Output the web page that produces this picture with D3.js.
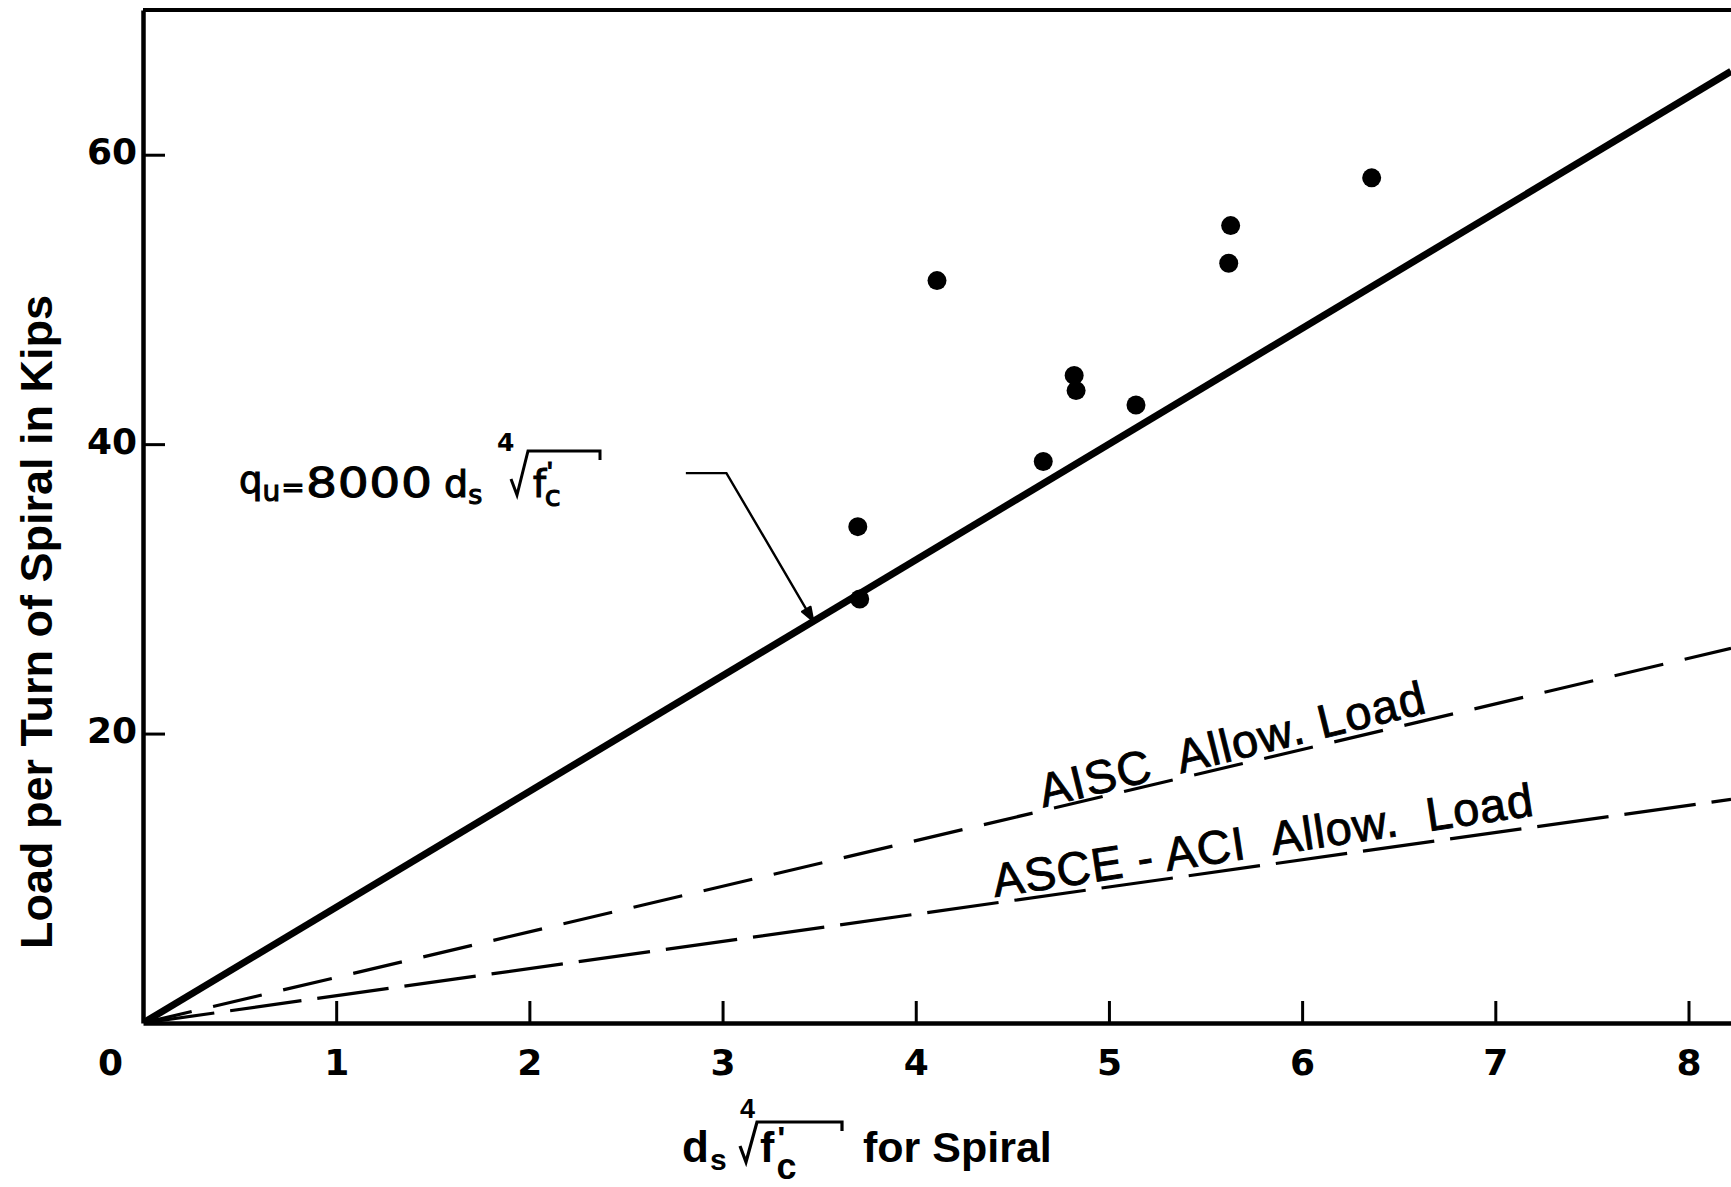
<!DOCTYPE html>
<html>
<head>
<meta charset="utf-8">
<script src="https://cdn.jsdelivr.net/npm/d3@7"></script>
<style>
  html, body { margin: 0; padding: 0; background: #fff; }
  svg { display: block; }
  text { fill: #000; }
</style>
</head>
<body>
<script>
// ---- data -------------------------------------------------------------
const xTicks = [0, 1, 2, 3, 4, 5, 6, 7, 8];
const yTicks = [20, 40, 60];

// test specimens: d_s * fourth-root(f'c) vs. load per turn of spiral (kips)
const specimenX = [3.70, 3.71, 4.11, 4.66, 4.82, 4.83, 5.14, 5.63, 5.62, 6.36];
const specimenY = [34.3, 29.3, 51.3, 38.8, 44.75, 43.7, 42.7, 55.1, 52.5, 58.4];

// straight design lines through the origin: load = slope * x (kips)
const lineNames  = ["ultimate", "AISC", "ASCE-ACI"];
const lineSlopes = [8.0, 3.15, 1.88];

// leader from the formula label to the ultimate-strength line
const leaderX = [2.81, 3.02, 3.47];
const leaderY = [38.0, 38.0, 27.76];

// ---- layout -----------------------------------------------------------
const W = 1731, H = 1187;
const x0 = 143, x1 = 1731, yBot = 1023, yTop = 10;
const xMax = 8.22, yMax = 70;

const svg = d3.select("body").append("svg")
  .attr("width", W).attr("height", H)
  .attr("viewBox", `0 0 ${W} ${H}`);

const x = d3.scaleLinear().domain([0, xMax]).range([x0, x1]);
const y = d3.scaleLinear().domain([0, yMax]).range([yBot, yTop]);

svg.append("defs").append("clipPath").attr("id", "plot")
  .append("rect").attr("x", x0).attr("y", yTop).attr("width", x1 - x0).attr("height", yBot - yTop);

// ---- axes -------------------------------------------------------------
const tickFont = "'DejaVu Sans', sans-serif";

const gx = svg.append("g").attr("transform", `translate(0,${yBot})`)
  .call(d3.axisBottom(x).tickValues(xTicks).tickSizeInner(-22).tickSizeOuter(0).tickPadding(26)
    .tickFormat(d3.format("d")));
gx.select(".domain").attr("stroke", "#000").attr("stroke-width", 4.5);
gx.selectAll(".tick line").attr("stroke", "#000").attr("stroke-width", 3);
gx.selectAll(".tick text")
  .attr("font-family", tickFont).attr("font-weight", "bold").attr("font-size", 36)
  .attr("dx", d => d === 0 ? -33 : 0);
gx.selectAll(".tick").filter(d => d === 0).select("line").remove();

const gy = svg.append("g").attr("transform", `translate(${x0},0)`)
  .call(d3.axisLeft(y).tickValues(yTicks).tickSizeInner(-22).tickSizeOuter(0).tickPadding(6));
gy.select(".domain").attr("stroke", "#000").attr("stroke-width", 4.5);
gy.selectAll(".tick line").attr("stroke", "#000").attr("stroke-width", 3);
gy.selectAll(".tick text")
  .attr("font-family", tickFont).attr("font-weight", "bold").attr("font-size", 36)
  .attr("dy", "0.25em");

// top frame edge
svg.append("line")
  .attr("x1", x0).attr("x2", x1).attr("y1", y(yMax)).attr("y2", y(yMax))
  .attr("stroke", "#000").attr("stroke-width", 4);

// ---- design lines -----------------------------------------------------
const lineStyles = {
  "ultimate": { w: 7, dash: null },
  "AISC":     { w: 3.2, dash: "50,22" },
  "ASCE-ACI": { w: 3.2, dash: "72,16" }
};
const lineGen = d3.line().x(d => x(d[0])).y(d => y(d[1]));
const plot = svg.append("g").attr("clip-path", "url(#plot)");
lineNames.forEach((name, i) => {
  const s = lineStyles[name];
  plot.append("path")
    .datum([[0, 0], [xMax, lineSlopes[i] * xMax]])
    .attr("d", lineGen)
    .attr("fill", "none").attr("stroke", "#000")
    .attr("stroke-width", s.w)
    .attr("stroke-dasharray", s.dash)
    .attr("stroke-linecap", "butt");
});

// ---- specimens --------------------------------------------------------
plot.selectAll("circle.spec")
  .data(specimenX.map((v, i) => [v, specimenY[i]]))
  .join("circle").attr("class", "spec")
  .attr("cx", d => x(d[0])).attr("cy", d => y(d[1]))
  .attr("r", 9.5).attr("fill", "#000");

// ---- leader + arrowhead ----------------------------------------------
const leaderPts = leaderX.map((v, i) => [v, leaderY[i]]);
svg.append("path").datum(leaderPts).attr("d", lineGen)
  .attr("fill", "none").attr("stroke", "#000").attr("stroke-width", 2.4);
{
  const a = leaderPts[1], b = leaderPts[2];
  const ax = x(a[0]), ay = y(a[1]), bx = x(b[0]), by = y(b[1]);
  const ang = Math.atan2(by - ay, bx - ax);
  const L = 14, hw = 5;
  const p1 = [bx - L * Math.cos(ang) + hw * Math.sin(ang), by - L * Math.sin(ang) - hw * Math.cos(ang)];
  const p2 = [bx - L * Math.cos(ang) - hw * Math.sin(ang), by - L * Math.sin(ang) + hw * Math.cos(ang)];
  svg.append("path").attr("d", `M${bx},${by}L${p1}L${p2}Z`).attr("fill", "#000")
    .attr("stroke", "#000").attr("stroke-width", 2).attr("stroke-linejoin", "round");
}

// ---- line labels ------------------------------------------------------
const labelFont = "'Liberation Sans', Arial, sans-serif";
function lineLabel(slope, xStart, lift, txt, len) {
  const px = x(xStart), py = y(slope * xStart) - lift;
  const ang = Math.atan2(y(slope) - y(0), x(1) - x(0)) * 180 / Math.PI - 0.6;
  svg.append("text")
    .attr("transform", `translate(${px},${py}) rotate(${ang})`)
    .attr("font-family", labelFont).attr("font-size", 47)
    .attr("stroke", "#000").attr("stroke-width", 0.9)
    .attr("textLength", len).attr("lengthAdjust", "spacing")
    .style("white-space", "pre")
    .text(txt);
}
lineLabel(lineSlopes[1], 4.66, 3, "AISC  Allow. Load", 396);
lineLabel(lineSlopes[2], 4.41, 6, "ASCE - ACI  Allow.  Load", 546);

// ---- math lettering helpers -----------------------------------------------
// parts: [string, {dx, dy, size, ls}] appended as tspans of one text element
function mathText(px, py, family, size, parts, weight = "bold", stroke = 0) {
  const t = svg.append("text").attr("x", px).attr("y", py)
    .attr("font-family", family).attr("font-weight", weight).attr("font-size", size)
    .style("white-space", "pre");
  if (stroke) t.attr("stroke", "#000").attr("stroke-width", stroke);
  parts.forEach(([s, o]) => {
    const sp = t.append("tspan").text(s);
    if (o.dx != null) sp.attr("dx", o.dx);
    if (o.dy != null) sp.attr("dy", o.dy);
    if (o.size != null) sp.attr("font-size", o.size);
    if (o.ls != null) sp.attr("letter-spacing", o.ls);
    if (o.family != null) sp.attr("font-family", o.family);
  });
  return t;
}
function radical(cx, by, topY, barEnd, w) {
  // check mark, overbar and closing tick of the root sign
  svg.append("path")
    .attr("d", `M${cx},${by - 16}L${cx + 6},${by}L${cx + 17},${topY}H${barEnd}V${topY + 9}`)
    .attr("fill", "none").attr("stroke", "#000").attr("stroke-width", w)
    .attr("stroke-linejoin", "miter");
}

// ---- formula label  q_u = 8000 d_s ⁴√f'c --------------------------------
const fFont = "'DejaVu Sans', sans-serif";
const LSans = "'Liberation Sans', Arial, sans-serif";
mathText(239, 493, fFont, 37, [
  ["q", {}],
  ["u", { dy: 8, size: 28 }],
  ["=", { dx: 1, dy: -4, size: 28 }]
], "normal", 1.1);
// wide, round lettering for the coefficient
svg.append("text")
  .attr("transform", "translate(306,497) scale(1.22,1)")
  .attr("font-family", fFont).attr("font-size", 40)
  .attr("letter-spacing", 0.5)
  .attr("stroke", "#000").attr("stroke-width", 1)
  .text("8000");
mathText(444, 497, fFont, 38, [
  ["d", {}],
  ["s", { dy: 7, size: 27 }]
], "normal", 1.1);
mathText(497, 451, fFont, 25, [["4", {}]], "bold");
radical(511, 495, 451, 600, 3);
mathText(533, 497, fFont, 37, [
  ["f", {}],
  ["'", { dx: 1, dy: -15, size: 30, family: LSans }],
  ["c", { dx: -8, dy: 24, size: 29 }]
], "normal", 1.1);

// ---- axis titles ------------------------------------------------------
const titleFont = "'Liberation Sans', Arial, sans-serif";
svg.append("text")
  .attr("transform", `translate(52,622) rotate(-90)`)
  .attr("text-anchor", "middle")
  .attr("font-family", titleFont).attr("font-weight", "bold").attr("font-size", 45)
  .text("Load per Turn of Spiral in Kips");

mathText(682, 1162, titleFont, 44, [
  ["d", {}],
  ["s", { dx: 1, dy: 8, size: 30 }]
]);
mathText(740, 1118, titleFont, 27, [["4", {}]]);
radical(740, 1162, 1122, 842, 3.2);
mathText(760, 1162, titleFont, 43, [
  ["f", {}],
  ["'", { dx: 3, dy: -12, size: 34 }],
  ["c", { dx: -9, dy: 29, size: 36 }]
]);
mathText(863, 1162, titleFont, 43, [["for Spiral", {}]]);
</script>
</body>
</html>
